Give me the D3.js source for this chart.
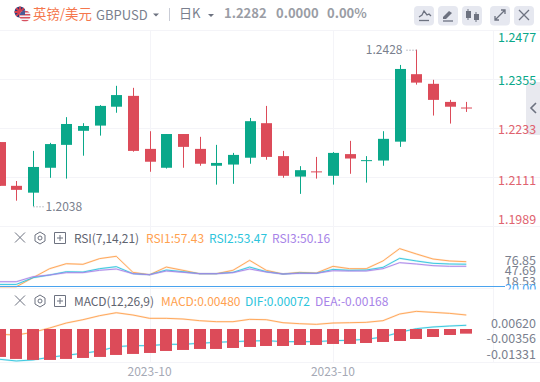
<!DOCTYPE html>
<html><head><meta charset="utf-8">
<script src="https://cdn.jsdelivr.net/npm/d3@7"></script>
<style>html,body{margin:0;padding:0;background:#fff;overflow:hidden}svg{display:block}
text{font-family:"Noto Sans CJK SC","Noto Sans",sans-serif}</style></head>
<body><svg id="c" width="540" height="382"></svg>
<script>
const opens =[1.2198,1.2089,1.2072,1.2134,1.2191,1.2226,1.2239,1.2286,1.2313,1.2181,1.2134,1.2218,1.2181,1.2139,1.2142,1.2159,1.2245,1.2163,1.2112,1.2125,1.2114,1.2168,1.2153,1.2152,1.2199,1.2367,1.2343,1.2298,1.2284];
const closes=[1.2089,1.2079,1.2136,1.2193,1.2243,1.2238,1.2288,1.2315,1.2176,1.2149,1.2218,1.2186,1.2144,1.2146,1.2166,1.2250,1.2161,1.2114,1.2128,1.2125,1.2171,1.2157,1.2153,1.2206,1.2380,1.2346,1.2303,1.2286,1.2284];
const highs =[1.2198,1.2101,1.2176,1.2196,1.2260,1.2245,1.2290,1.2338,1.2333,1.2225,1.2218,1.2218,1.2211,1.2191,1.2171,1.2258,1.2288,1.2176,1.2138,1.2161,1.2173,1.2201,1.2163,1.2225,1.2390,1.2428,1.2353,1.2303,1.2298];
const lows  =[1.2089,1.2052,1.2038,1.2109,1.2107,1.2164,1.2214,1.2271,1.2174,1.2124,1.2132,1.2134,1.2139,1.2092,1.2094,1.2144,1.2154,1.2109,1.2069,1.2107,1.2092,1.2119,1.2097,1.2139,1.2186,1.2341,1.2264,1.2244,1.2273];
const rsi1=[17.8,17.8,32.1,46.4,54.3,53.3,62.3,66.0,40.6,36.9,49.0,43.8,38.5,38.5,43.8,59.6,43.8,38.0,40.6,39.5,50.1,46.4,46.4,58.6,78.1,69.7,61.7,58.6,57.43];
const rsi2=[21.5,21.5,32.1,36.4,41.6,41.1,46.4,49.6,38.5,36.9,44.3,41.6,38.5,38.5,40.6,49.0,41.6,37.9,39.5,39.0,45.3,43.8,44.3,48.5,62.8,58.6,54.9,53.8,53.47];
const rsi3=[25.8,25.8,33.7,36.4,40.1,40.1,43.8,45.9,38.5,36.9,42.7,40.6,38.5,38.5,40.1,45.9,41.1,37.9,39.0,39.0,43.2,42.7,42.7,46.4,55.9,53.8,51.2,50.1,50.16];
const macdLine=[-0.00287,-0.00313,-0.00207,-0.00036,0.00162,0.00294,0.00453,0.00571,0.00479,0.00347,0.00347,0.00321,0.00255,0.00215,0.00215,0.00307,0.00294,0.00175,0.00136,0.00109,0.00162,0.00175,0.00189,0.00255,0.00519,0.00624,0.00585,0.00545,0.00480];
const difLine=[-0.01277,-0.01343,-0.01303,-0.01197,-0.01118,-0.01039,-0.00947,-0.00775,-0.00735,-0.00735,-0.00683,-0.00683,-0.00643,-0.00603,-0.00577,-0.00551,-0.00537,-0.00577,-0.00577,-0.00577,-0.00537,-0.00524,-0.00485,-0.00392,-0.00207,-0.00062,0.00004,0.00043,0.00072];
const hist=[-0.01184,-0.01263,-0.01303,-0.01303,-0.01263,-0.01224,-0.01184,-0.01105,-0.01065,-0.01026,-0.00947,-0.00907,-0.00867,-0.00867,-0.00828,-0.00788,-0.00749,-0.00749,-0.00709,-0.00709,-0.00669,-0.00669,-0.00630,-0.00590,-0.00551,-0.00471,-0.00392,-0.00313,-0.00260];
const histBase=-0.00075;
const priceTickLabels=["1.2477","1.2355","1.2233","1.2111","1.1989"];
const rsiTicks=["76.85","47.69","18.53"];
const macdTicks=["0.00620","-0.00356","-0.01331"];
const dateTicks=[{i:9,t:"2023-10"},{i:20,t:"2023-10"}];

const UP="#0aa88a",DOWN="#dc4b59",GRID="#f4f4f8",TXT="#7a7f8e";
const svg=d3.select("#c");
const x=d3.scaleLinear().domain([0,28]).range([-0.4,466.3]);
const y=d3.scaleLinear().domain([1.1989,1.2477]).range([226,30]);
const yR=d3.scaleLinear().domain([50.16,57.43]).range([266.3,261.7]);
const yM=d3.scaleLinear().domain([0,0.0048]).range([327.1,315]);
const px=v=>Math.round(x(v))+0.5;

// grid
const g=svg.append("g").attr("stroke",GRID).attr("stroke-width",1);
[30,79,128,177,226,288,362.5].forEach(v=>g.append("line").attr("x1",0).attr("x2",540).attr("y1",Math.floor(v)+.5).attr("y2",Math.floor(v)+.5));
dateTicks.forEach(d=>g.append("line").attr("x1",px(d.i)).attr("x2",px(d.i)).attr("y1",30).attr("y2",362));
g.append("line").attr("x1",493.5).attr("x2",493.5).attr("y1",30).attr("y2",362);

// candles
const idx=d3.range(opens.length);
const col=i=>closes[i]>=opens[i]&&!(i===19||i===28)?UP:DOWN;
const c=svg.append("g").selectAll("g").data(idx).join("g");
c.append("line").attr("x1",px).attr("x2",px).attr("y1",i=>y(highs[i])).attr("y2",i=>y(lows[i])).attr("stroke",col);
c.append("rect").attr("x",i=>px(i)-5.5).attr("width",11)
 .attr("y",i=>y(Math.max(opens[i],closes[i])))
 .attr("height",i=>Math.max(1,Math.abs(y(opens[i])-y(closes[i])))).attr("fill",col);

// hi/lo annotations
const hiI=highs.indexOf(d3.max(highs)),loI=lows.indexOf(d3.min(lows));
svg.append("line").attr("x1",px(hiI)-10).attr("x2",px(hiI)).attr("y1",y(highs[hiI])+.5).attr("y2",y(highs[hiI])+.5).attr("stroke","#8a8f9c").attr("stroke-dasharray","1 2");
svg.append("text").attr("x",px(hiI)-14).attr("y",y(highs[hiI])+4).attr("text-anchor","end").attr("font-size",12).attr("fill",TXT).text(d3.format(".4f")(highs[hiI]));
svg.append("line").attr("x1",px(loI)).attr("x2",px(loI)+10).attr("y1",y(lows[loI])+.5).attr("y2",y(lows[loI])+.5).attr("stroke","#8a8f9c").attr("stroke-dasharray","1 2");
svg.append("text").attr("x",px(loI)+12).attr("y",y(lows[loI])+4.5).attr("font-size",12).attr("fill",TXT).text(d3.format(".4f")(lows[loI]));

// side tab
svg.append("path").attr("d","M540 82H531Q526 82 526 87V130Q526 135 531 135H540Z").attr("fill","#e8e9ef");
svg.append("path").attr("d","M536 103L531 108L536 113").attr("fill","none").attr("stroke","#6d7280").attr("stroke-width",1.6);

// price axis
const labelY=[37,80,129.5,180,219];
const labelCol=[UP,UP,"#e0636f","#e0636f","#e0636f"];
priceTickLabels.forEach((t,k)=>svg.append("text").attr("x",498).attr("y",labelY[k]+4.5).attr("font-size",12.5).attr("fill",labelCol[k]).text(t));

// header
svg.append("clipPath").attr("id","f1").append("circle").attr("cx",20).attr("cy",12).attr("r",5.5);
svg.append("clipPath").attr("id","f2").append("circle").attr("cx",25).attr("cy",16).attr("r",5.5);
const f1=svg.append("g").attr("clip-path","url(#f1)");
f1.append("rect").attr("x",14).attr("y",6).attr("width",12).attr("height",12).attr("fill","#2b3a77");
f1.append("path").attr("d","M14 6L26 18M26 6L14 18M20 6V18M14 12H26").attr("stroke","#d8404e").attr("stroke-width",1.8);
const f2=svg.append("g").attr("clip-path","url(#f2)");
f2.append("rect").attr("x",19).attr("y",10).attr("width",12).attr("height",12).attr("fill","#f2f2f4");
[11,14,17,20].forEach(v=>f2.append("rect").attr("x",19).attr("y",v).attr("width",12).attr("height",1.5).attr("fill","#d8505e"));
f2.append("rect").attr("x",19).attr("y",10).attr("width",6).attr("height",5).attr("fill","#4a5a94");
const T=(xx,yy,t,fs,fill,w)=>svg.append("text").attr("x",xx).attr("y",yy).attr("font-size",fs).attr("fill",fill).attr("font-weight",w||400).text(t);
T(33,19,"英镑/美元",13.4,"#f5774d");
T(96,20,"GBPUSD",13,"#7a7f8e");
svg.append("path").attr("d","M153 13.5H159L156 16.5Z").attr("fill","#6d7280");
svg.append("line").attr("x1",169.5).attr("x2",169.5).attr("y1",8).attr("y2",21).attr("stroke","#c9ccd6");
T(179,18,"日K",13,"#7a7f8e");
svg.append("path").attr("d","M208 14H214L211 17Z").attr("fill","#6d7280");
T(224,18,"1.2282",13,"#9a9da5",700);
T(276,18,"0.0000",13,"#9a9da5",700);
T(327,18,"0.00%",13,"#9a9da5",700);

// toolbar
const ic="#6d7280";
[414,438,462,490,514].forEach(b=>svg.append("rect").attr("x",b).attr("y",6).attr("width",20).attr("height",19.5).attr("rx",4).attr("fill","#e6e8f0"));
const ip=(d,o)=>svg.append("path").attr("d",d).attr("fill",o&&o.fill?ic:"none").attr("stroke",o&&o.fill?"none":ic).attr("stroke-width",(o&&o.sw)||1.3);
ip("M419 17L422 15L424 11L427 15L429 14L431 16");
ip("M419 20.5H429");
ip("M443 17L449 11L452 13L446 19L443 19Z",{fill:1});
ip("M443 21H453");
ip("M468 9V20M476 12V22",{sw:1});
ip("M466 11h5v7h-5z",{fill:1});ip("M474 14h5v6h-5z",{fill:1});
ip("M495 20L505 10M501 10H505V14M495 16V20H499");
ip("M519 10L529 20M529 10L519 20");

// RSI panel
const line=(arr,sc)=>d3.line().x((d,i)=>x(i)).y(d=>sc(d))(arr);
const drawL=(arr,sc,colr)=>{svg.append("path").attr("d",line(arr,sc)).attr("fill","none").attr("stroke",colr).attr("stroke-opacity",.2).attr("stroke-width",2);
 svg.append("path").attr("d",line(arr,sc)).attr("fill","none").attr("stroke",colr).attr("stroke-width",.9);};
drawL(rsi1,yR,"#ffa14f");drawL(rsi2,yR,"#2cc4dc");drawL(rsi3,yR,"#a783e8");
const panelIcons=yy=>{
 ip(`M15 ${yy-5.5}L25 ${yy+4.5}M25 ${yy-5.5}L15 ${yy+4.5}`,{sw:1});
 ip(`M40 ${yy-6}L45 ${yy-3}V${yy+3}L40 ${yy+6}L35 ${yy+3}V${yy-3}Z`,{sw:1});
 svg.append("circle").attr("cx",40).attr("cy",yy).attr("r",2).attr("fill","none").attr("stroke",ic);
 ip(`M54.5 ${yy-5.5}H65.5V${yy+5.5}H54.5ZM57 ${yy}H63M60 ${yy-3}V${yy+3}`,{sw:1});
};
panelIcons(238);panelIcons(301);
T(74,243,"RSI(7,14,21)",12,"#5f6470").attr("textLength",65);
T(146,243,"RSI1:57.43",12,"#ffa14f");
T(209,243,"RSI2:53.47",12,"#2cc4dc");
T(272,243,"RSI3:50.16",12,"#a783e8");
rsiTicks.forEach((t,k)=>svg.append("text").attr("x",536).attr("y",[264.5,275,285.5][k]).attr("text-anchor","end").attr("font-size",12.5).attr("fill",TXT).text(t));
svg.append("rect").attr("x",494).attr("y",285).attr("width",46).attr("height",10).attr("fill","#fff");
svg.append("text").attr("x",505).attr("y",293).attr("font-size",12.5).attr("fill","#4aa3ee").text("20.00");
svg.append("rect").attr("x",494).attr("y",289.5).attr("width",46).attr("height",6).attr("fill","#fff");
svg.append("line").attr("x1",0).attr("x2",505).attr("y1",286.5).attr("y2",286.5).attr("stroke","#4aa3ee").attr("stroke-width",1);

// MACD panel
drawL(macdLine,yM,"#ffa14f");drawL(difLine,yM,"#2cc4dc");
svg.append("g").selectAll("rect").data(idx).join("rect")
 .attr("x",i=>px(i)-6.5).attr("width",12)
 .attr("y",yM(histBase)).attr("height",i=>yM(hist[i])-yM(histBase)).attr("fill",DOWN);
T(74,306,"MACD(12,26,9)",12,"#5f6470").attr("textLength",80);
T(161,306,"MACD:0.00480",12,"#ffa14f");
T(245,306,"DIF:0.00072",12,"#2cc4dc");
T(315,306,"DEA:-0.00168",12,"#a783e8");
macdTicks.forEach((t,k)=>svg.append("text").attr("x",536).attr("y",[327.5,343,358.5][k]).attr("text-anchor","end").attr("font-size",12.5).attr("fill",TXT).text(t));

// dates
dateTicks.forEach(d=>svg.append("text").attr("x",x(d.i)).attr("y",376).attr("text-anchor","middle").attr("font-size",12).attr("fill","#a5a9b5").text(d.t));
</script></body></html>
